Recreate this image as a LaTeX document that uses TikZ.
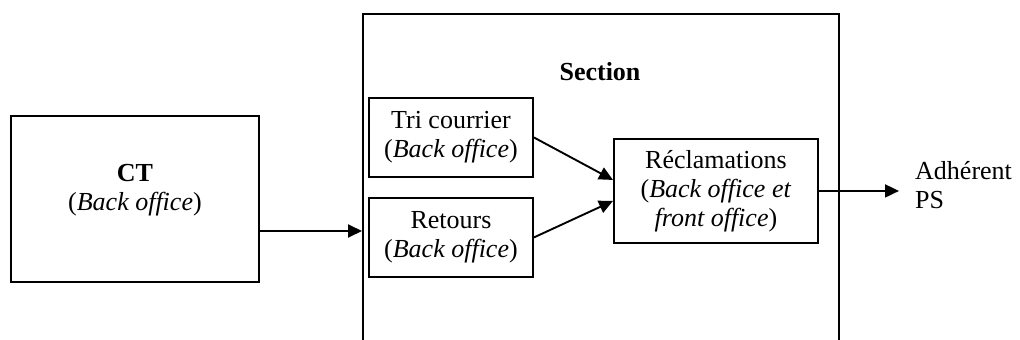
\documentclass[tikz,border=0pt]{standalone}
\usepackage{fontspec}
\setmainfont{Liberation Serif}
\usetikzlibrary{arrows.meta,calc}
\begin{document}
\begin{tikzpicture}[x=1pt,y=-1pt,
  box/.style={draw,line width=1.9pt,inner sep=0pt,anchor=north west},
  lbl/.style={align=center,inner sep=0pt,font=\fontsize{26}{29}\selectfont},
  arr/.style={line width=1.9pt,-{Triangle[length=14pt,width=13pt]}}]
\useasboundingbox (0,0) rectangle (1020,340);
\clip (0,0) rectangle (1020,340);
% outer frame of the section (open at the bottom)
\node[box,minimum width=476pt,minimum height=400pt] (section) at (362,13) {};
\node[lbl,font=\fontsize{26}{29}\selectfont\bfseries] (sectitle) at (600,72) {Section};
% CT
\node[box,minimum width=248pt,minimum height=166pt] (ct) at (10,115) {};
\node[lbl] (ctlabel) at ($(ct.center)+(0,-9)$) {\textbf{CT}\\(\textit{Back office})};
% inner steps
\node[box,minimum width=164pt,minimum height=79pt] (tri) at (368,97) {};
\node[lbl] (trilabel) at (tri.center) {Tri courrier\\(\textit{Back office})};
\node[box,minimum width=164pt,minimum height=79pt] (ret) at (368,197) {};
\node[lbl] (retlabel) at (ret.center) {Retours\\(\textit{Back office})};
\node[box,minimum width=204pt,minimum height=104pt] (recl) at (613,138) {};
\node[lbl] (recllabel) at (recl.center) {Réclamations\\(\textit{Back office et}\\\textit{front office})};
% destination
\node[lbl,align=left,anchor=west,inner xsep=16pt] (adh) at (899,185) {Adhérent\\PS};
% connectors
\draw[arr] (ct.east |- 0,231) -- (section.west |- 0,231);
\draw[arr] (tri.east) -- ($(recl.west)+(0,-11)$);
\draw[arr] (ret.east) -- ($(recl.west)+(0,10)$);
\draw[arr] (recl.east) -- (adh.west |- recl.east);
\end{tikzpicture}
\end{document}
